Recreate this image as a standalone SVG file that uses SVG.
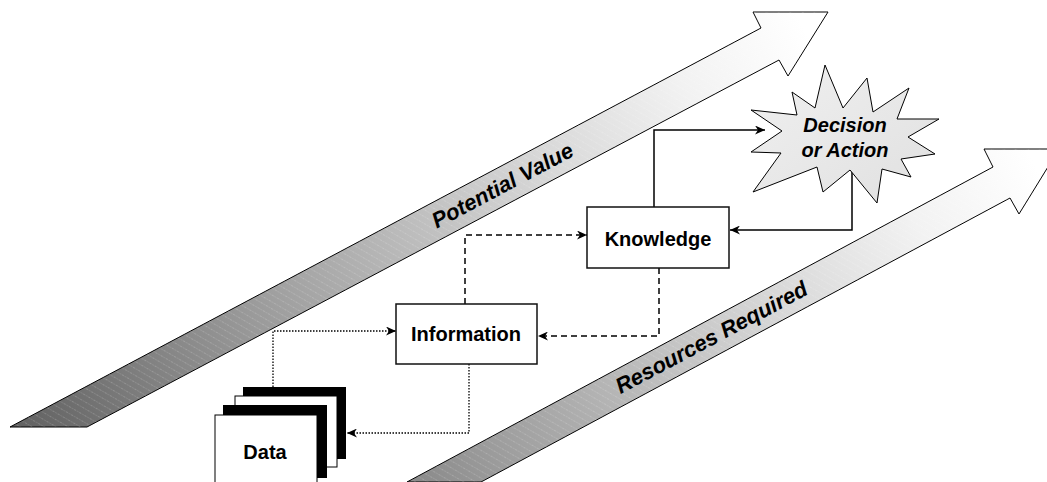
<svg xmlns="http://www.w3.org/2000/svg" width="1047" height="482" viewBox="0 0 1047 482">
<style>
.box{fill:#fff;stroke:#111;stroke-width:1.5}
.lbl{font-family:"Liberation Sans",Arial,sans-serif;font-weight:bold;font-size:20px;fill:#000;text-anchor:middle}
.big{font-family:"Liberation Sans",Arial,sans-serif;font-weight:bold;font-style:italic;font-size:22px;fill:#000;text-anchor:middle}
.arrowshape{stroke:#000;stroke-width:1}
.solid{fill:none;stroke:#000;stroke-width:1.5}
.dash{fill:none;stroke:#000;stroke-width:1.5;stroke-dasharray:6,4}
.dot{fill:none;stroke:#000;stroke-width:1.3;stroke-dasharray:1.5,1.5}
</style>
<defs>
<linearGradient id="g1" gradientUnits="userSpaceOnUse" x1="10" y1="427" x2="800" y2="20">
<stop offset="0" stop-color="#606060"/>
<stop offset="0.3" stop-color="#9a9a9a"/>
<stop offset="0.6" stop-color="#cdcdcd"/>
<stop offset="0.85" stop-color="#f2f2f2"/>
<stop offset="1" stop-color="#ffffff"/>
</linearGradient>
<linearGradient id="g2" gradientUnits="userSpaceOnUse" x1="241" y1="564" x2="1031" y2="157">
<stop offset="0" stop-color="#606060"/>
<stop offset="0.3" stop-color="#9a9a9a"/>
<stop offset="0.6" stop-color="#cdcdcd"/>
<stop offset="0.85" stop-color="#f2f2f2"/>
<stop offset="1" stop-color="#ffffff"/>
</linearGradient>
<linearGradient id="gs" x1="0" y1="0" x2="1" y2="1">
<stop offset="0" stop-color="#f0f0f0"/>
<stop offset="1" stop-color="#e0e0e0"/>
</linearGradient>
<pattern id="hatch" width="6" height="6" patternUnits="userSpaceOnUse" patternTransform="rotate(-60)">
<line x1="0" y1="0" x2="0" y2="6" stroke="#fff" stroke-opacity="0.45" stroke-width="0.8" stroke-dasharray="1.2,1.2"/>
</pattern>
<marker id="ah" markerWidth="11" markerHeight="9" refX="10" refY="4.5" orient="auto" markerUnits="userSpaceOnUse">
<path d="M0,0 L10,4.5 L0,9 L3,4.5 z" fill="#000"/>
</marker>
</defs>

<g id="arrow-potential-value">
<polygon class="arrowshape" fill="url(#g1)" points="753,12 828,12 788,76 779,60 87,427 10,427 761,28"/>
<polygon fill="url(#hatch)" points="753,12 828,12 788,76 779,60 87,427 10,427 761,28"/>
<text class="big" transform="translate(506,192) rotate(-28)">Potential Value</text>
</g>

<g id="arrow-resources-required">
<polygon class="arrowshape" fill="url(#g2)" points="984,149 1059,149 1019,214 1010,198 481,482 407,482 993,167"/>
<polygon fill="url(#hatch)" points="984,149 1059,149 1019,214 1010,198 481,482 407,482 993,167"/>
<text class="big" transform="translate(715,344) rotate(-28)">Resources Required</text>
</g>

<g id="connectors">
<path class="solid" d="M654,207 V130 H765" marker-end="url(#ah)"/>
<path class="solid" d="M852,170 V230 H730" marker-end="url(#ah)"/>
<path class="dash" d="M465,304 V235 H587" marker-end="url(#ah)"/>
<path class="dash" d="M659,268 V336 H538" marker-end="url(#ah)"/>
<path class="dot" d="M273,387 V331 H396" marker-end="url(#ah)"/>
<path class="dot" d="M469,364 V433 H347" marker-end="url(#ah)"/>
</g>

<g id="node-decision">
<polygon fill="url(#gs)" stroke="#000" stroke-width="1" points="825,65 843,108 867,78 873,112 909,88 897,119 939,119 908,137 935,154 901,159 911,177 882,169 877,203 850,170 823,192 817,167 753,192 781,153 751,152 782,131 751,110 797,115 792,92 815,108"/>
<text class="big" style="font-size:20px" x="845" y="132">Decision</text>
<text class="big" style="font-size:20px" x="845" y="157">or Action</text>
</g>

<g id="node-knowledge">
<rect class="box" x="587" y="207" width="142" height="61"/>
<text class="lbl" x="658" y="246">Knowledge</text>
</g>

<g id="node-information">
<rect class="box" x="396" y="304" width="141" height="60"/>
<text class="lbl" x="466" y="341">Information</text>
</g>

<g id="node-data">
<rect x="243" y="387" width="103" height="72" fill="#000"/>
<rect x="235" y="396" width="102" height="71" fill="#fff" stroke="#000" stroke-width="1"/>
<rect x="223" y="405" width="104" height="73" fill="#000"/>
<rect x="215" y="415" width="102" height="72" fill="#fff" stroke="#000" stroke-width="1"/>
<text class="lbl" x="265" y="459">Data</text>
</g>
</svg>
